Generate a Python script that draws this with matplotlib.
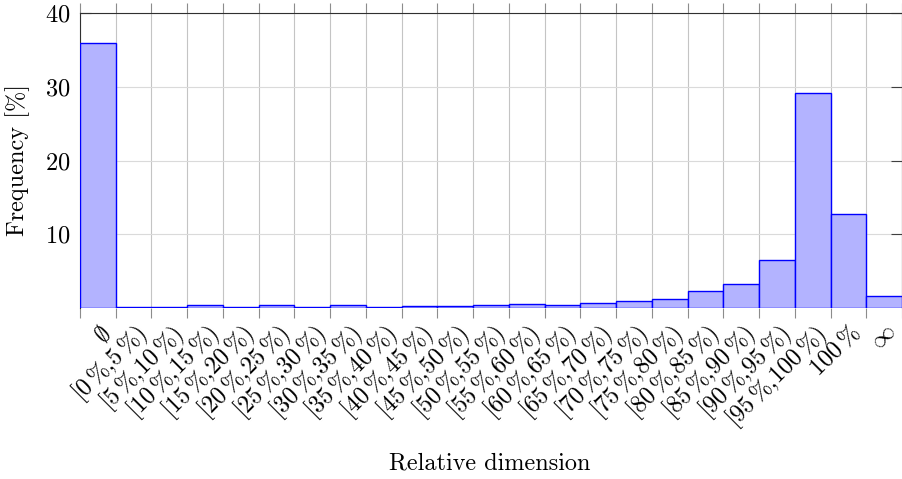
import numpy as np
import matplotlib
matplotlib.use("Agg")
import matplotlib.pyplot as plt

plt.rcParams['font.family'] = 'serif'
plt.rcParams['font.serif'] = ['cmr10', 'DejaVu Serif']
plt.rcParams['mathtext.fontset'] = 'cm'
plt.rcParams['axes.formatter.use_mathtext'] = True
plt.rcParams['axes.unicode_minus'] = False

FS = 17.5

categories = [r"$\emptyset$"] + ["[%d$\\,$%%,%d$\\,$%%)" % (a, a + 5) for a in range(0, 100, 5)] + ["100$\\,$%", r"$\infty$"]
values = [36.0, 0.15, 0.15, 0.35, 0.15, 0.35, 0.1, 0.35, 0.15,
          0.23, 0.25, 0.45, 0.55, 0.37, 0.72, 0.9, 1.22, 2.35, 3.2, 6.47,
          29.1, 12.7, 1.63]
yticks = [10, 20, 30, 40]

W, H = 903, 479
fig = plt.figure(figsize=(W / 100, H / 100), dpi=100)
ax = fig.add_axes([80 / W, 1 - 308 / H, 822 / W, 295 / H])

x = np.arange(len(values))
ax.bar(x, values, width=1.0, color='#b3b3ff', edgecolor='#0000ff', linewidth=1.0, zorder=3)

ax.set_xlim(-0.5, len(values) - 0.5)
ax.set_ylim(0, 40)

ax.set_xticks(np.arange(len(values) + 1) - 0.5)
ax.set_xticklabels([])
ax.set_xticks(x, minor=True)
ax.set_xticklabels(categories, minor=True, rotation=45, ha='right', va='top',
                   rotation_mode='anchor', fontsize=FS)
ax.tick_params(axis='x', which='major', direction='out', length=7.2, width=0.8,
               color='#8c8c8c', top=True, bottom=True)
ax.tick_params(axis='x', which='minor', length=0, pad=9)

ax.set_yticks(yticks)
ax.tick_params(axis='y', which='major', direction='in', length=8, width=0.8,
               color='#404040', left=True, right=True, labelsize=FS, pad=7)

ax.grid(axis='x', which='major', color='#c4c4c4', linewidth=0.8)
ax.grid(axis='y', which='major', color='#dadada', linewidth=0.8)
ax.set_axisbelow(True)

for s in ['top', 'right', 'left']:
    ax.spines[s].set_color('#303030')
    ax.spines[s].set_linewidth(0.8)
ax.spines['bottom'].set_visible(False)

ax.set_xlabel('Relative dimension', fontsize=FS)
ax.xaxis.set_label_coords(410 / 822, -(474 - 308) / 295, transform=ax.transAxes)
ax.xaxis.label.set_va('bottom')
ax.set_ylabel('Frequency [%]', fontsize=FS)
ax.yaxis.set_label_coords(-(80 - 18) / 822, (308 - 160) / 295, transform=ax.transAxes)
ax.yaxis.label.set_va('center')

fig.savefig('out.png', dpi=100)
